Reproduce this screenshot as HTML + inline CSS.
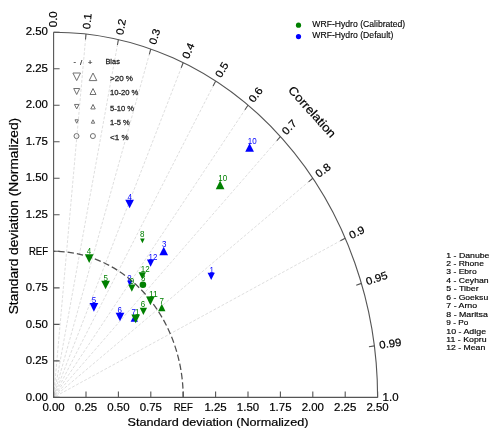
<!DOCTYPE html>
<html><head><meta charset="utf-8"><style>html,body{margin:0;padding:0;background:#fff;width:500px;height:434px;overflow:hidden}svg{display:block;will-change:transform;font-family:"Liberation Sans",sans-serif}text{stroke:currentColor;stroke-width:0.2px}text.s{stroke-width:0.16px}text.m{stroke-width:0}text.b{stroke-width:0.26px}text.l{stroke-width:0.12px}</style></head><body>
<svg width="500" height="434" viewBox="0 0 500 434">
<rect width="500" height="434" fill="#fff"/>
<g stroke="#d5d5d5" stroke-width="0.8" stroke-dasharray="2.9 1.7" fill="none">
<path d="M86 34.03L53.6 397.4"/>
<path d="M118.4 39.58L53.6 397.4"/>
<path d="M150.8 49.02L53.6 397.4"/>
<path d="M183.2 62.69L53.6 397.4"/>
<path d="M215.6 81.13L53.6 397.4"/>
<path d="M248 105.24L53.6 397.4"/>
<path d="M280.4 136.6L53.6 397.4"/>
<path d="M312.8 178.28L53.6 397.4"/>
<path d="M345.2 238.21L53.6 397.4"/>
</g>
<path d="M183.2 397.4A129.6 146.08 0 0 0 53.6 251.32" fill="none" stroke="#505050" stroke-width="1.25" stroke-dasharray="6.4 2.97" stroke-dashoffset="0.57"/>
<g fill="none" stroke="#555" stroke-width="1.1">
<path d="M377.6 397.4A324 365.2 0 0 0 53.6 32.2"/>
<path d="M53.6 32.2V397.4H377.6"/>
<path d="M53.6 397.4V391.4M86 397.4V391.4M118.4 397.4V391.4M150.8 397.4V391.4M183.2 397.4V391.4M215.6 397.4V391.4M248 397.4V391.4M280.4 397.4V391.4M312.8 397.4V391.4M345.2 397.4V391.4M377.6 397.4V391.4M53.6 397.4H59.6M53.6 360.88H59.6M53.6 324.36H59.6M53.6 287.84H59.6M53.6 251.32H59.6M53.6 214.8H59.6M53.6 178.28H59.6M53.6 141.76H59.6M53.6 105.24H59.6M53.6 68.72H59.6M53.6 32.2H59.6M86 34.03L85.51 39.51M118.4 39.58L117.42 44.99M150.8 49.02L149.32 54.32M183.2 62.69L181.21 67.82M215.6 81.13L213.09 86.02M248 105.24L244.95 109.82M280.4 136.6L276.79 140.75M312.8 178.28L308.6 181.83M345.2 238.21L340.37 240.85M361.4 283.37L356.24 285.28M374.36 345.88L368.93 346.75"/>
</g>
<g font-family='"Liberation Sans", sans-serif'>
<text x="53.6" y="410.8" font-size="10.7" textLength="22.27" lengthAdjust="spacingAndGlyphs" text-anchor="middle" fill="#000" color="#000">0.00</text>
<text x="86" y="410.8" font-size="10.7" textLength="22.27" lengthAdjust="spacingAndGlyphs" text-anchor="middle" fill="#000" color="#000">0.25</text>
<text x="118.4" y="410.8" font-size="10.7" textLength="22.27" lengthAdjust="spacingAndGlyphs" text-anchor="middle" fill="#000" color="#000">0.50</text>
<text x="150.8" y="410.8" font-size="10.7" textLength="22.27" lengthAdjust="spacingAndGlyphs" text-anchor="middle" fill="#000" color="#000">0.75</text>
<text x="183.2" y="410.8" font-size="10.7" textLength="19.02" lengthAdjust="spacingAndGlyphs" text-anchor="middle" fill="#000" color="#000">REF</text>
<text x="215.6" y="410.8" font-size="10.7" textLength="22.27" lengthAdjust="spacingAndGlyphs" text-anchor="middle" fill="#000" color="#000">1.25</text>
<text x="248" y="410.8" font-size="10.7" textLength="22.27" lengthAdjust="spacingAndGlyphs" text-anchor="middle" fill="#000" color="#000">1.50</text>
<text x="280.4" y="410.8" font-size="10.7" textLength="22.27" lengthAdjust="spacingAndGlyphs" text-anchor="middle" fill="#000" color="#000">1.75</text>
<text x="312.8" y="410.8" font-size="10.7" textLength="22.27" lengthAdjust="spacingAndGlyphs" text-anchor="middle" fill="#000" color="#000">2.00</text>
<text x="345.2" y="410.8" font-size="10.7" textLength="22.27" lengthAdjust="spacingAndGlyphs" text-anchor="middle" fill="#000" color="#000">2.25</text>
<text x="377.6" y="410.8" font-size="10.7" textLength="22.27" lengthAdjust="spacingAndGlyphs" text-anchor="middle" fill="#000" color="#000">2.50</text>
<text x="48" y="400.6" font-size="10.7" textLength="22.27" lengthAdjust="spacingAndGlyphs" text-anchor="end" fill="#000" color="#000">0.00</text>
<text x="48" y="364.08" font-size="10.7" textLength="22.27" lengthAdjust="spacingAndGlyphs" text-anchor="end" fill="#000" color="#000">0.25</text>
<text x="48" y="327.56" font-size="10.7" textLength="22.27" lengthAdjust="spacingAndGlyphs" text-anchor="end" fill="#000" color="#000">0.50</text>
<text x="48" y="291.04" font-size="10.7" textLength="22.27" lengthAdjust="spacingAndGlyphs" text-anchor="end" fill="#000" color="#000">0.75</text>
<text x="48" y="254.52" font-size="10.7" textLength="19.02" lengthAdjust="spacingAndGlyphs" text-anchor="end" fill="#000" color="#000">REF</text>
<text x="48" y="218" font-size="10.7" textLength="22.27" lengthAdjust="spacingAndGlyphs" text-anchor="end" fill="#000" color="#000">1.25</text>
<text x="48" y="181.48" font-size="10.7" textLength="22.27" lengthAdjust="spacingAndGlyphs" text-anchor="end" fill="#000" color="#000">1.50</text>
<text x="48" y="144.96" font-size="10.7" textLength="22.27" lengthAdjust="spacingAndGlyphs" text-anchor="end" fill="#000" color="#000">1.75</text>
<text x="48" y="108.44" font-size="10.7" textLength="22.27" lengthAdjust="spacingAndGlyphs" text-anchor="end" fill="#000" color="#000">2.00</text>
<text x="48" y="71.92" font-size="10.7" textLength="22.27" lengthAdjust="spacingAndGlyphs" text-anchor="end" fill="#000" color="#000">2.25</text>
<text x="48" y="35.4" font-size="10.7" textLength="22.27" lengthAdjust="spacingAndGlyphs" text-anchor="end" fill="#000" color="#000">2.50</text>
<text x="57.3" y="27.2" font-size="10.7" textLength="15.9" lengthAdjust="spacingAndGlyphs" transform="rotate(-90 57.3 27.2)" fill="#000" color="#000">0.0</text>
<text x="90.13" y="29.42" font-size="10.7" textLength="15.9" lengthAdjust="spacingAndGlyphs" transform="rotate(-84.26 90.13 29.42)" fill="#000" color="#000">0.1</text>
<text x="122.92" y="35.4" font-size="10.7" textLength="15.9" lengthAdjust="spacingAndGlyphs" transform="rotate(-78.46 122.92 35.4)" fill="#000" color="#000">0.2</text>
<text x="155.67" y="45.32" font-size="10.7" textLength="15.9" lengthAdjust="spacingAndGlyphs" transform="rotate(-72.54 155.67 45.32)" fill="#000" color="#000">0.3</text>
<text x="188.4" y="59.51" font-size="10.7" textLength="15.9" lengthAdjust="spacingAndGlyphs" transform="rotate(-66.42 188.4 59.51)" fill="#000" color="#000">0.4</text>
<text x="221.08" y="78.53" font-size="10.7" textLength="15.9" lengthAdjust="spacingAndGlyphs" transform="rotate(-60 221.08 78.53)" fill="#000" color="#000">0.5</text>
<text x="253.73" y="103.3" font-size="10.7" textLength="15.9" lengthAdjust="spacingAndGlyphs" transform="rotate(-53.13 253.73 103.3)" fill="#000" color="#000">0.6</text>
<text x="286.32" y="135.41" font-size="10.7" textLength="15.9" lengthAdjust="spacingAndGlyphs" transform="rotate(-45.57 286.32 135.41)" fill="#000" color="#000">0.7</text>
<text x="318.84" y="178.01" font-size="10.7" textLength="15.9" lengthAdjust="spacingAndGlyphs" transform="rotate(-36.87 318.84 178.01)" fill="#000" color="#000">0.8</text>
<text x="351.2" y="239.15" font-size="10.7" textLength="15.9" lengthAdjust="spacingAndGlyphs" transform="rotate(-25.84 351.2 239.15)" fill="#000" color="#000">0.9</text>
<text x="367.24" y="285.14" font-size="10.7" textLength="22.27" lengthAdjust="spacingAndGlyphs" transform="rotate(-18.19 367.24 285.14)" fill="#000" color="#000">0.95</text>
<text x="379.82" y="348.75" font-size="10.7" textLength="22.27" lengthAdjust="spacingAndGlyphs" transform="rotate(-8.11 379.82 348.75)" fill="#000" color="#000">0.99</text>
<text x="382.6" y="401.1" font-size="10.7" textLength="15.9" lengthAdjust="spacingAndGlyphs" transform="rotate(-0 382.6 401.1)" fill="#000" color="#000">1.0</text>
<text x="127.6" y="425.8" font-size="11.6" textLength="180.8" lengthAdjust="spacingAndGlyphs" fill="#000" color="#000">Standard deviation (Normalized)</text>
<text x="18.2" y="314.3" font-size="12.2" textLength="196.5" lengthAdjust="spacingAndGlyphs" transform="rotate(-90 18.2 314.3)" fill="#000" color="#000">Standard deviation (Normalized)</text>
<text x="309.2" y="114.6" font-size="12" textLength="64.5" lengthAdjust="spacingAndGlyphs" text-anchor="middle" transform="rotate(48 309.2 114.6)" fill="#000" color="#000">Correlation</text>
</g>
<g font-family='"Liberation Sans", sans-serif'>
<path d="M249.6 143.15L245.25 151.85L253.95 151.85Z" fill="#0000ff"/>
<text x="247.7" y="144.3" font-size="8.5" class="m" textLength="8.9" lengthAdjust="spacingAndGlyphs" fill="#0000ff" color="#0000ff">10</text>
<path d="M129.6 208.35L125.25 199.65L133.95 199.65Z" fill="#0000ff"/>
<text x="127.6" y="199.6" font-size="8.5" class="m" textLength="4.45" lengthAdjust="spacingAndGlyphs" fill="#0000ff" color="#0000ff">4</text>
<path d="M163.7 246.65L159.35 255.35L168.05 255.35Z" fill="#0000ff"/>
<text x="162.1" y="246.9" font-size="8.5" class="m" textLength="4.45" lengthAdjust="spacingAndGlyphs" fill="#0000ff" color="#0000ff">3</text>
<path d="M150.6 266.75L146.95 259.45L154.25 259.45Z" fill="#0000ff"/>
<text x="148.5" y="260.4" font-size="8.5" class="m" textLength="8.9" lengthAdjust="spacingAndGlyphs" fill="#0000ff" color="#0000ff">12</text>
<path d="M211.2 280.05L207.55 272.75L214.85 272.75Z" fill="#0000ff"/>
<text x="209.4" y="272.7" font-size="8.5" class="m" textLength="4.45" lengthAdjust="spacingAndGlyphs" fill="#0000ff" color="#0000ff">1</text>
<path d="M129.8 286.1L127.3 281.1L132.3 281.1Z" fill="#0000ff"/>
<text x="127.2" y="280.5" font-size="8.5" class="m" textLength="4.45" lengthAdjust="spacingAndGlyphs" fill="#0000ff" color="#0000ff">2</text>
<path d="M93.9 311.75L89.55 303.05L98.25 303.05Z" fill="#0000ff"/>
<text x="91.7" y="302.9" font-size="8.5" class="m" textLength="4.45" lengthAdjust="spacingAndGlyphs" fill="#0000ff" color="#0000ff">5</text>
<path d="M120 321.35L115.65 312.65L124.35 312.65Z" fill="#0000ff"/>
<text x="117.6" y="312.6" font-size="8.5" class="m" textLength="4.45" lengthAdjust="spacingAndGlyphs" fill="#0000ff" color="#0000ff">6</text>
<path d="M134.3 314.45L130.65 321.75L137.95 321.75Z" fill="#0000ff"/>
<text x="131.6" y="314.6" font-size="8.5" class="m" textLength="4.45" lengthAdjust="spacingAndGlyphs" fill="#0000ff" color="#0000ff">7</text>
<path d="M220.1 180.45L215.75 189.15L224.45 189.15Z" fill="#008000"/>
<text x="218.3" y="180.5" font-size="8.5" class="m" textLength="8.9" lengthAdjust="spacingAndGlyphs" fill="#008000" color="#008000">10</text>
<path d="M142.4 243.2L140.1 238.6L144.7 238.6Z" fill="#008000"/>
<text x="140" y="236.8" font-size="8.5" class="m" textLength="4.45" lengthAdjust="spacingAndGlyphs" fill="#008000" color="#008000">8</text>
<path d="M89.2 262.95L84.85 254.25L93.55 254.25Z" fill="#008000"/>
<text x="86.7" y="254.2" font-size="8.5" class="m" textLength="4.45" lengthAdjust="spacingAndGlyphs" fill="#008000" color="#008000">4</text>
<circle cx="142.9" cy="284.8" r="3.3" fill="#008000"/>
<text x="141" y="281.3" font-size="8.5" class="m" textLength="4.45" lengthAdjust="spacingAndGlyphs" fill="#008000" color="#008000">3</text>
<path d="M142.3 279.55L138.65 272.25L145.95 272.25Z" fill="#008000"/>
<text x="140.7" y="272.2" font-size="8.5" class="m" textLength="8.9" lengthAdjust="spacingAndGlyphs" fill="#008000" color="#008000">12</text>
<path d="M105.6 289.35L101.25 280.65L109.95 280.65Z" fill="#008000"/>
<text x="103.4" y="280.7" font-size="8.5" class="m" textLength="4.45" lengthAdjust="spacingAndGlyphs" fill="#008000" color="#008000">5</text>
<path d="M131.8 291.75L128.15 284.45L135.45 284.45Z" fill="#008000"/>
<text x="129.7" y="284" font-size="8.5" class="m" textLength="4.45" lengthAdjust="spacingAndGlyphs" fill="#008000" color="#008000">9</text>
<path d="M150.4 305.25L146.05 296.55L154.75 296.55Z" fill="#008000"/>
<text x="148.9" y="296.7" font-size="8.5" class="m" textLength="8.9" lengthAdjust="spacingAndGlyphs" fill="#008000" color="#008000">11</text>
<path d="M161.8 303.85L158.15 311.15L165.45 311.15Z" fill="#008000"/>
<text x="159.6" y="304" font-size="8.5" class="m" textLength="4.45" lengthAdjust="spacingAndGlyphs" fill="#008000" color="#008000">7</text>
<path d="M143.4 315.05L139.75 307.75L147.05 307.75Z" fill="#008000"/>
<text x="140.8" y="307.4" font-size="8.5" class="m" textLength="4.45" lengthAdjust="spacingAndGlyphs" fill="#008000" color="#008000">6</text>
<path d="M135.7 323.15L131.35 314.45L140.05 314.45Z" fill="#008000"/>
<text x="134.9" y="314.8" font-size="8.5" class="m" textLength="4.45" lengthAdjust="spacingAndGlyphs" fill="#008000" color="#008000">1</text>
</g>
<g font-family='"Liberation Sans", sans-serif'>
<g fill="none" stroke="#707070" stroke-width="1">
<path d="M76.7 80.6L72.9 73L80.5 73Z"/>
<path d="M93 73L89.2 80.6L96.8 80.6Z"/>
<path d="M76.7 94.5L73.7 88.5L79.7 88.5Z"/>
<path d="M93 88.5L90 94.5L96 94.5Z"/>
<path d="M76.7 108.95L74.45 104.45L78.95 104.45Z"/>
<path d="M93 104.45L90.75 108.95L95.25 108.95Z"/>
<path d="M76.7 123.2L75 119.8L78.4 119.8Z"/>
<path d="M93 119.8L91.3 123.2L94.7 123.2Z"/>
<circle cx="76.5" cy="136.05" r="2.5"/>
<circle cx="92.9" cy="136.05" r="2.5"/>
</g>
<text x="73.6" y="63.6" font-size="7.4" class="s" fill="#222" color="#222">-</text>
<text x="80.1" y="64.8" font-size="8" class="s" fill="#222" color="#222">/</text>
<text x="87.7" y="64.9" font-size="8" class="s" fill="#222" color="#222">+</text>
<text x="105.4" y="63.6" font-size="7.9" class="b" textLength="14.48" lengthAdjust="spacingAndGlyphs" fill="#222" color="#222">Bias</text>
<text x="110" y="80.6" font-size="7.9" class="b" textLength="22.97" lengthAdjust="spacingAndGlyphs" fill="#222" color="#222">&gt;20 %</text>
<text x="110" y="95.1" font-size="7.9" class="b" textLength="28.38" lengthAdjust="spacingAndGlyphs" fill="#222" color="#222">10-20 %</text>
<text x="110" y="110.6" font-size="7.9" class="b" textLength="24.06" lengthAdjust="spacingAndGlyphs" fill="#222" color="#222">5-10 %</text>
<text x="110" y="125.4" font-size="7.9" class="b" textLength="19.73" lengthAdjust="spacingAndGlyphs" fill="#222" color="#222">1-5 %</text>
<text x="110" y="140.3" font-size="7.9" class="b" textLength="18.65" lengthAdjust="spacingAndGlyphs" fill="#222" color="#222">&lt;1 %</text>
</g>
<circle cx="298.5" cy="25.15" r="2.6" fill="#008000"/>
<circle cx="298.5" cy="36.6" r="2.6" fill="#0000ff"/>
<g font-family='"Liberation Sans", sans-serif'>
<text x="312.3" y="27.1" font-size="8.4" class="l" textLength="92.9" lengthAdjust="spacingAndGlyphs" fill="#000" color="#000">WRF-Hydro (Calibrated)</text>
<text x="312.3" y="38" font-size="8.4" class="l" textLength="81.05" lengthAdjust="spacingAndGlyphs" fill="#000" color="#000">WRF-Hydro (Default)</text>
<text x="446.3" y="257.5" font-size="8" class="s" textLength="43.16" lengthAdjust="spacingAndGlyphs" fill="#000" color="#000">1 - Danube</text>
<text x="446.3" y="265.95" font-size="8" class="s" textLength="37.61" lengthAdjust="spacingAndGlyphs" fill="#000" color="#000">2 - Rhone</text>
<text x="446.3" y="274.4" font-size="8" class="s" textLength="30.42" lengthAdjust="spacingAndGlyphs" fill="#000" color="#000">3 - Ebro</text>
<text x="446.3" y="282.85" font-size="8" class="s" textLength="42.26" lengthAdjust="spacingAndGlyphs" fill="#000" color="#000">4 - Ceyhan</text>
<text x="446.3" y="291.3" font-size="8" class="s" textLength="32.39" lengthAdjust="spacingAndGlyphs" fill="#000" color="#000">5 - Tiber</text>
<text x="446.3" y="299.75" font-size="8" class="s" textLength="41.88" lengthAdjust="spacingAndGlyphs" fill="#000" color="#000">6 - Goeksu</text>
<text x="446.3" y="308.2" font-size="8" class="s" textLength="30.86" lengthAdjust="spacingAndGlyphs" fill="#000" color="#000">7 - Arno</text>
<text x="446.3" y="316.65" font-size="8" class="s" textLength="41.52" lengthAdjust="spacingAndGlyphs" fill="#000" color="#000">8 - Maritsa</text>
<text x="446.3" y="325.1" font-size="8" class="s" textLength="21.93" lengthAdjust="spacingAndGlyphs" fill="#000" color="#000">9 - Po</text>
<text x="446.3" y="333.55" font-size="8" class="s" textLength="39.76" lengthAdjust="spacingAndGlyphs" fill="#000" color="#000">10 - Adige</text>
<text x="446.3" y="342" font-size="8" class="s" textLength="40.3" lengthAdjust="spacingAndGlyphs" fill="#000" color="#000">11 - Kopru</text>
<text x="446.3" y="350.45" font-size="8" class="s" textLength="38.95" lengthAdjust="spacingAndGlyphs" fill="#000" color="#000">12 - Mean</text>
</g>
</svg>
</body></html>
